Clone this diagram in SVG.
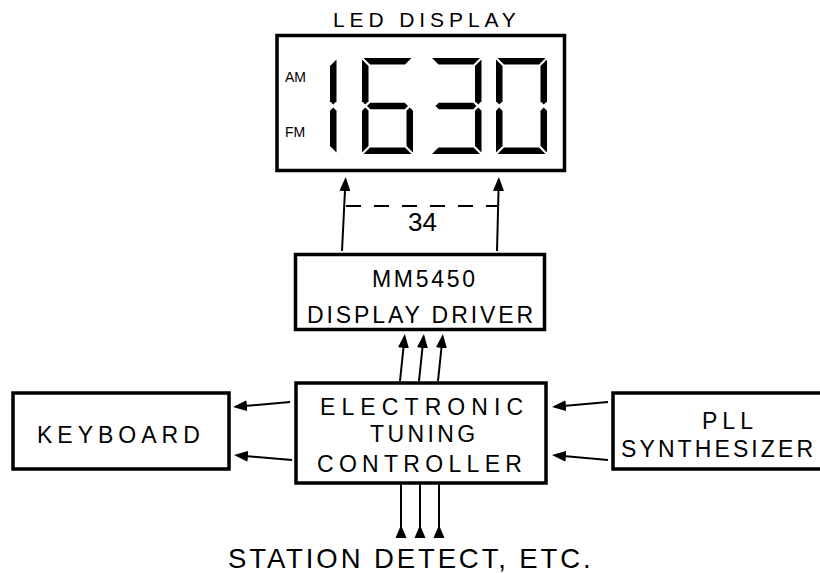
<svg xmlns="http://www.w3.org/2000/svg" width="820" height="573" viewBox="0 0 820 573">
  <defs>
    <style>
      .box { fill: #fff; stroke: #000; stroke-width: 3.5; }
      .ln { fill: none; stroke: #000; stroke-width: 2; }
      .arr { fill: none; stroke: #000; stroke-width: 2; marker-end: url(#ah); }
      .t { font-family: "Liberation Sans", Arial, Helvetica, sans-serif; fill: #000; }
      .seg { fill: #000; }
    </style>
    <marker id="ah" viewBox="0 0 14 11" refX="11" refY="5.5" markerWidth="14" markerHeight="11" markerUnits="userSpaceOnUse" orient="auto">
      <path d="M0,0 L14,5.5 L0,11 Z" fill="#000"/>
    </marker>
    <polygon id="sa" class="seg" points="1.5,0 49.5,0 43,6.5 8,6.5"/>
    <polygon id="sb" class="seg" points="51,1.5 51,43.25 47.75,46.5 44.5,43.25 44.5,8"/>
    <polygon id="sc" class="seg" points="51,52.75 51,94.5 44.5,88 44.5,52.75 47.75,49.5"/>
    <polygon id="sd" class="seg" points="1.5,96 49.5,96 43,89.5 8,89.5"/>
    <polygon id="se" class="seg" points="0,52.75 0,94.5 6.5,88 6.5,52.75 3.25,49.5"/>
    <polygon id="sf" class="seg" points="0,1.5 0,43.25 3.25,46.5 6.5,43.25 6.5,8"/>
    <polygon id="sg" class="seg" points="5,48 8.25,44.75 42.75,44.75 46,48 42.75,51.25 8.25,51.25"/>
  </defs>
  <rect width="820" height="573" fill="#fff"/>

  <g id="led-display">
    <text class="t" x="333" y="27" font-size="21" letter-spacing="4.9">LED DISPLAY</text>
    <rect class="box" x="277" y="35.5" width="287.5" height="135"/>
    <text class="t" x="285" y="82" font-size="14">AM</text>
    <text class="t" x="285" y="137" font-size="14">FM</text>
    <g id="digit-1" transform="translate(285.5,58)">
      <use href="#sb"/><use href="#sc"/>
    </g>
    <g id="digit-6" transform="translate(362,58)">
      <use href="#sa"/><use href="#sc"/><use href="#sd"/><use href="#se"/><use href="#sf"/><use href="#sg"/>
    </g>
    <g id="digit-3" transform="translate(430.5,58)">
      <use href="#sa"/><use href="#sb"/><use href="#sc"/><use href="#sd"/><use href="#sg"/>
    </g>
    <g id="digit-0" transform="translate(496,58)">
      <use href="#sa"/><use href="#sb"/><use href="#sc"/><use href="#sd"/><use href="#se"/><use href="#sf"/>
    </g>
  </g>

  <g id="display-driver">
    <rect class="box" x="295.5" y="254.5" width="249" height="75"/>
    <text class="t" x="372" y="287" font-size="23" letter-spacing="2.7">MM5450</text>
    <text class="t" x="307" y="323" font-size="23" letter-spacing="2.9">DISPLAY DRIVER</text>
  </g>

  <g id="tuning-controller">
    <rect class="box" x="296" y="383" width="250" height="100"/>
    <text class="t" x="320" y="415" font-size="23" letter-spacing="6.1">ELECTRONIC</text>
    <text class="t" x="370" y="442" font-size="23" letter-spacing="3.4">TUNING</text>
    <text class="t" x="317" y="472" font-size="23" letter-spacing="5.3">CONTROLLER</text>
  </g>

  <g id="keyboard">
    <rect class="box" x="13" y="393" width="216" height="76"/>
    <text class="t" x="37" y="443" font-size="23" letter-spacing="5">KEYBOARD</text>
  </g>

  <g id="pll-synthesizer">
    <rect class="box" x="613" y="393" width="220" height="76"/>
    <text class="t" x="702" y="429" font-size="23" letter-spacing="5">PLL</text>
    <text class="t" x="621" y="457" font-size="23" letter-spacing="3.1">SYNTHESIZER</text>
  </g>

  <g id="station-detect">
    <text class="t" x="228" y="568" font-size="27.5" letter-spacing="2.9">STATION DETECT, ETC.</text>
  </g>

  <g id="connectors">
    <line class="arr" x1="342" y1="251" x2="345.5" y2="180"/>
    <line class="arr" x1="497" y1="251" x2="498.8" y2="180"/>
    <line class="ln" x1="346" y1="206" x2="497" y2="206" stroke-dasharray="15 13"/>
    <text class="t" x="408" y="231" font-size="26">34</text>

    <line class="arr" x1="400" y1="381" x2="404.6" y2="337"/>
    <line class="arr" x1="419" y1="381" x2="423.6" y2="337"/>
    <line class="arr" x1="438" y1="381" x2="442.6" y2="337"/>

    <line class="arr" x1="290" y1="402" x2="236" y2="406.7"/>
    <line class="arr" x1="292" y1="460" x2="237" y2="455.3"/>
    <line class="arr" x1="608" y1="402" x2="555" y2="406.7"/>
    <line class="arr" x1="608" y1="460" x2="555" y2="455.3"/>

    <line class="ln" x1="401" y1="484" x2="401" y2="536"/>
    <line class="ln" x1="420" y1="484" x2="420" y2="536"/>
    <line class="ln" x1="439" y1="484" x2="439" y2="536"/>
    <polygon points="401,525 395.5,538 406.5,538" fill="#000"/>
    <polygon points="420,525 414.5,538 425.5,538" fill="#000"/>
    <polygon points="439,525 433.5,538 444.5,538" fill="#000"/>
  </g>
</svg>
